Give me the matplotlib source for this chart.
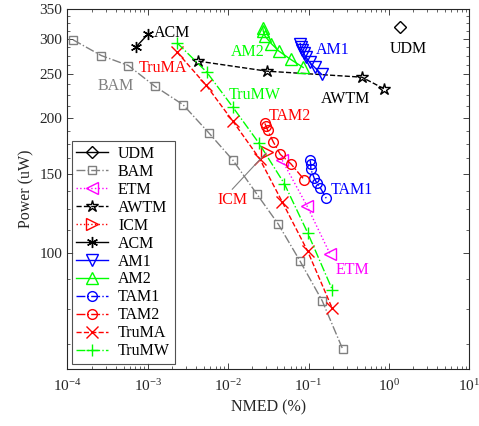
import numpy as np
import matplotlib
matplotlib.use('Agg')
from matplotlib import pyplot as plt
from matplotlib.ticker import FixedLocator, NullFormatter, LogLocator, FixedFormatter

plt.rcParams['font.family'] = ['Liberation Serif', 'DejaVu Serif']
plt.rcParams['mathtext.fontset'] = 'custom'
plt.rcParams['mathtext.rm'] = 'Liberation Serif'
plt.rcParams['font.size'] = 11.5

# data (NMED in %, power in uW)
udm_x = [1.38]
udm_y = [318.7]
bam_x = [1.18e-4, 2.64e-4, 5.75e-4, 1.22e-3, 2.75e-3, 5.73e-3, 1.15e-2, 0.0229, 0.0421, 0.0789, 0.148, 0.267]
bam_y = [298.7, 275.6, 261.8, 235.5, 214.1, 185.4, 160.9, 135.1, 115.9, 95.7, 78.2, 60.9]
etm_x = [0.0471, 0.0955, 0.186]
etm_y = [160.9, 127.4, 99.3]
awtm_x = [4.27e-3, 0.0304, 0.460, 0.871]
awtm_y = [267.7, 254.3, 246.6, 232.3]
icm_x = [0.0305]
icm_y = [167.9]
acm_x = [7.24e-4, 1.006e-3]
acm_y = [288.6, 307.4]
am1_x = [0.0789, 0.0800, 0.0824, 0.0871, 0.0935, 0.1035, 0.1194, 0.146]
am1_y = [293.1, 288.6, 284.2, 278.5, 272.9, 265.9, 259.2, 250.0]
am2_x = [0.0270, 0.0274, 0.0290, 0.0344, 0.0427, 0.0601, 0.0859]
am2_y = [318.2, 311.8, 303.9, 293.1, 282.0, 270.1, 259.2]
tam1_x = [0.105, 0.1064, 0.107, 0.1178, 0.127, 0.1396, 0.166]
tam1_y = [160.9, 157.6, 153.6, 146.7, 143.2, 139.9, 132.4]
tam2_x = [0.0286, 0.0298, 0.0311, 0.0364, 0.0445, 0.0604, 0.0885]
tam2_y = [194.5, 191.5, 187.6, 176.9, 165.9, 158.0, 145.6]
truma_x = [2.32e-3, 5.36e-3, 0.01143, 0.0246, 0.0474, 0.0973, 0.1955]
truma_y = [280.4, 236.3, 196.8, 162.3, 129.7, 101.0, 75.5]
trumw_x = [2.32e-3, 5.43e-3, 0.01143, 0.0239, 0.0499, 0.0973, 0.1986]
trumw_y = [294.1, 253.0, 211.5, 176.2, 142.8, 111.0, 82.6]

gray = (0.5, 0.5, 0.5)
green = (0, 1, 0)
magenta = (1, 0, 1)
dark = (0.15, 0.15, 0.15)

fig = plt.figure(figsize=(4.79, 4.26), dpi=100)
ax = fig.add_axes([0.1405, 0.1331, 0.8393, 0.8458])

ms = 7
ax.plot(udm_x, udm_y, '-', color='k', marker='D', ms=6, mfc='none', lw=1, label='UDM')
ax.plot(bam_x, bam_y, '-.', color=gray, marker='s', ms=6, mfc='none', lw=1, label='BAM')
ax.plot(etm_x, etm_y, ':', color=magenta, marker='<', ms=8, mfc='none', lw=1, label='ETM')
ax.plot(awtm_x, awtm_y, '--', color='k', marker='*', ms=9, mfc='none', lw=1, label='AWTM')
ax.plot(icm_x, icm_y, ':', color='r', marker='>', ms=8, mfc='none', lw=1, label='ICM')
ax.plot(acm_x, acm_y, '-', color='k', marker=(6, 2, 0), ms=8, lw=1, label='ACM')
ax.plot(am1_x, am1_y, '-', color='b', marker='v', ms=8, mfc='none', lw=1, label='AM1')
ax.plot(am2_x, am2_y, '-', color=green, marker='^', ms=8, mfc='none', lw=1, label='AM2')
ax.plot(tam1_x, tam1_y, '-.', color='b', marker='o', ms=ms, mfc='none', lw=1, label='TAM1')
ax.plot(tam2_x, tam2_y, '-.', color='r', marker='o', ms=ms, mfc='none', lw=1, label='TAM2')
ax.plot(truma_x, truma_y, '--', color='r', marker='x', ms=8, lw=1, label='TruMA')
ax.plot(trumw_x, trumw_y, '-.', color=green, marker='+', ms=9, lw=1, label='TruMW')

# ICM pointer line
ax.plot([0.01127, 0.0295], [138.7, 167.0], '-', color=gray, lw=0.8)

fs = 11.5
ax.text(1.19e-3, 310, 'ACM', color='k', fontsize=fs, va='center')
ax.text(7.65e-4, 257.9, 'TruMA', color='r', fontsize=fs, va='center')
ax.text(2.35e-4, 235.5, 'BAM', color=gray, fontsize=fs, va='center')
ax.text(0.01086, 280.4, 'AM2', color=green, fontsize=fs, va='center')
ax.text(0.1247, 282.8, 'AM1', color='b', fontsize=fs, va='center')
ax.text(1.035, 285.3, 'UDM', color='k', fontsize=fs, va='center')
ax.text(0.144, 220.8, 'AWTM', color='k', fontsize=fs, va='center')
ax.text(0.01005, 224.5, 'TruMW', color=green, fontsize=fs, va='center')
ax.text(0.0318, 201.6, 'TAM2', color='r', fontsize=fs, va='center')
ax.text(0.19, 138.4, 'TAM1', color='b', fontsize=fs, va='center')
ax.text(7.41e-3, 131.5, 'ICM', color='r', fontsize=fs, va='center')
ax.text(0.215, 91.8, 'ETM', color=magenta, fontsize=fs, va='center')

ax.set_xscale('log')
ax.set_yscale('log')
ax.set_xlim(1e-4, 10)
ax.set_ylim(55, 350)

yt = [100, 150, 200, 250, 300, 350]
ax.yaxis.set_major_locator(FixedLocator(yt))
ax.yaxis.set_major_formatter(FixedFormatter([str(v) for v in yt]))
ax.yaxis.set_minor_locator(FixedLocator([v for v in np.arange(62.5, 350, 12.5) if v not in yt]))
ax.yaxis.set_minor_formatter(NullFormatter())
ax.xaxis.set_major_locator(LogLocator(base=10, numticks=10))
ax.xaxis.set_minor_locator(LogLocator(base=10, subs=np.arange(2, 10), numticks=20))
ax.xaxis.set_minor_formatter(NullFormatter())

ax.tick_params(which='both', direction='in', top=True, right=True, colors=dark, labelsize=11)
ax.tick_params(which='major', length=4, width=0.6)
ax.tick_params(which='minor', length=2.5, width=0.5)
ax.tick_params(axis='x', pad=6)
for s in ax.spines.values():
    s.set_color(dark)
    s.set_linewidth(0.8)

ax.set_xlabel('NMED (%)', fontsize=fs, color=dark)
ax.set_ylabel('Power (uW)', fontsize=fs, color=dark)

leg = ax.legend(loc='lower left', bbox_to_anchor=(0.003, 0.006), fontsize=fs, frameon=True,
                fancybox=False, edgecolor=dark, handlelength=2.0,
                labelspacing=0.12, borderpad=0.3, handletextpad=0.6, borderaxespad=0.2)
leg.get_frame().set_linewidth(0.8)

fig.savefig('out.png', dpi=100)
